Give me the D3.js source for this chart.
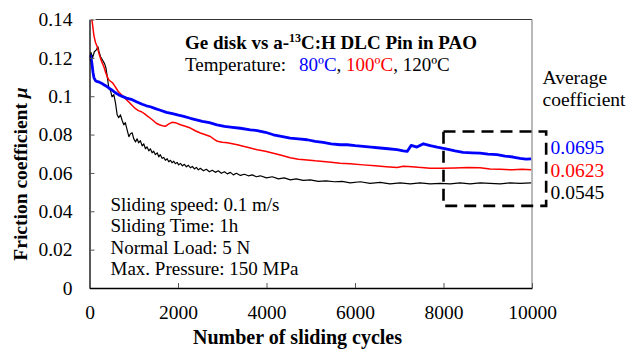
<!DOCTYPE html>
<html>
<head>
<meta charset="utf-8">
<script src="https://cdn.jsdelivr.net/npm/d3@7/dist/d3.min.js"></script>
<style>
  html, body { margin: 0; padding: 0; background: #fff; }
  svg { display: block; font-family: "Liberation Serif", "Times New Roman", serif; }
  svg text { font-family: "Liberation Serif", "Times New Roman", serif; }
</style>
</head>
<body>
<svg id="chart" width="630" height="350"></svg>
<script>
// ---------- data ----------
const xTicks = [0, 2000, 4000, 6000, 8000, 10000];
const yTicks = [0, 0.02, 0.04, 0.06, 0.08, 0.1, 0.12, 0.14];

const seriesNames = ["80ºC", "100ºC", "120ºC"];
const seriesColors = ["#0000ff", "#ff0000", "#000000"];
const averageValues = ["0.0695", "0.0623", "0.0545"];

// 80 ºC (blue)  [cycle, mu]
const mu80 = [
  [25,0.1217],[55,0.117],[80,0.1123],[100,0.1097],[135,0.1081],[180,0.1076],[225,0.1073],
  [270,0.1068],[325,0.106],[385,0.1052],[435,0.1043],[495,0.1034],[585,0.1018],[655,0.1008],
  [740,0.0999],[835,0.099],[965,0.0982],[1060,0.0971],[1190,0.0958],[1285,0.095],[1375,0.0945],
  [1490,0.0935],[1600,0.0927],[1740,0.0916],[1875,0.0909],[2010,0.0901],[2130,0.0895],
  [2280,0.0885],[2415,0.0877],[2550,0.0869],[2710,0.0862],[2880,0.0851],[3050,0.0843],
  [3230,0.0838],[3410,0.0833],[3635,0.0825],[3790,0.0821],[3975,0.0812],[4155,0.0799],
  [4335,0.0791],[4535,0.0782],[4720,0.0778],[4920,0.0773],[5100,0.0765],[5280,0.0759],
  [5460,0.0752],[5665,0.0747],[5825,0.0747],[6005,0.0742],[6185,0.0738],[6365,0.0734],
  [6570,0.073],[6750,0.0726],[6950,0.0721],[7090,0.0715],[7180,0.0712],[7270,0.0744],
  [7400,0.0735],[7545,0.0752],[7700,0.0742],[7855,0.0734],[8080,0.0724],[8260,0.0715],
  [8440,0.0707],[8645,0.0705],[8825,0.0703],[9005,0.0698],[9210,0.0695],[9390,0.0688],
  [9570,0.0683],[9730,0.0676],[9865,0.0672],[9980,0.0673]
];

// 100 ºC (red)
const mu100 = [
  [0,0.152],[40,0.143],[60,0.139],[100,0.1316],[135,0.128],[175,0.1258],[210,0.1227],
  [250,0.1196],[285,0.1175],[325,0.1154],[360,0.1128],[400,0.1102],[435,0.1086],[475,0.1078],
  [520,0.107],[565,0.1055],[610,0.1039],[655,0.1023],[700,0.1013],[765,0.0997],[835,0.0982],
  [905,0.0966],[970,0.095],[1040,0.0935],[1105,0.0925],[1175,0.0919],[1240,0.0909],
  [1310,0.0896],[1375,0.0885],[1445,0.0872],[1510,0.0859],[1580,0.0851],[1650,0.0846],
  [1715,0.0843],[1785,0.0854],[1865,0.0864],[1940,0.0862],[2055,0.0851],[2165,0.0843],
  [2280,0.0834],[2390,0.082],[2505,0.0808],[2620,0.0799],[2730,0.079],[2820,0.0775],
  [2890,0.0765],[3000,0.076],[3115,0.0757],[3230,0.0752],[3340,0.0747],[3475,0.0739],
  [3635,0.073],[3790,0.0721],[3975,0.0713],[4155,0.0703],[4335,0.0692],[4535,0.0679],
  [4720,0.0671],[4920,0.0668],[5100,0.0663],[5280,0.066],[5460,0.0656],[5665,0.0651],
  [5890,0.0648],[6185,0.0642],[6455,0.0637],[6705,0.0632],[6950,0.0628],[7090,0.0635],
  [7200,0.0634],[7430,0.0629],[7700,0.0625],[7970,0.0624],[8260,0.0626],[8555,0.0628],
  [8825,0.0627],[9050,0.0621],[9280,0.0619],[9570,0.0616],[9775,0.0619],[9980,0.0616]
];

// 120 ºC (black)
const mu120 = [
  [10,0.119],[35,0.1227],[70,0.1201],[110,0.1232],[160,0.1243],[190,0.1258],[215,0.1232],
  [250,0.1206],[290,0.119],[340,0.117],[370,0.1149],[405,0.1097],[435,0.1044],[475,0.1029],
  [510,0.0997],[550,0.1008],[590,0.0961],[625,0.0903],[660,0.0888],[700,0.0903],[740,0.0872],
  [775,0.0851],[810,0.0862],[850,0.0825],[890,0.0789],[925,0.0804],[965,0.0809],[1000,0.0778],
  [1040,0.0762],[1075,0.0778],[1110,0.0757],[1150,0.0768],[1190,0.0741],[1225,0.0752],
  [1265,0.0726],[1300,0.0736],[1340,0.0715],[1375,0.0726],[1415,0.0705],[1450,0.0713],
  [1490,0.0695],[1530,0.0705],[1565,0.0684],[1600,0.0695],[1640,0.0676],[1675,0.0681],
  [1715,0.0666],[1755,0.0674],[1790,0.0658],[1830,0.0666],[1865,0.0653],[1905,0.0661],
  [1940,0.0648],[1980,0.0655],[2015,0.0642],[2055,0.065],[2100,0.0637],[2145,0.0645],
  [2190,0.0632],[2235,0.064],[2280,0.0627],[2325,0.0634],[2370,0.0621],[2415,0.0629],
  [2460,0.0616],[2505,0.0624],[2575,0.0611],[2640,0.0619],[2710,0.0606],[2775,0.0614],
  [2845,0.0603],[2910,0.0611],[2980,0.0598],[3050,0.0606],[3115,0.0595],[3185,0.0603],
  [3250,0.059],[3320,0.0598],[3410,0.0587],[3500,0.0593],[3590,0.0585],[3680,0.059],
  [3770,0.058],[3860,0.0585],[4000,0.0574],[4130,0.058],[4270,0.0569],[4400,0.0574],
  [4540,0.0564],[4670,0.0569],[4830,0.0561],[4990,0.0564],[5170,0.0556],[5350,0.0559],
  [5530,0.0554],[5710,0.0556],[5890,0.0548],[6120,0.0554],[6340,0.0546],[6570,0.0551],
  [6790,0.0543],[7020,0.0548],[7250,0.0543],[7470,0.0548],[7700,0.0543],[7920,0.0546],
  [8150,0.0543],[8370,0.0548],[8600,0.0543],[8830,0.0548],[9050,0.0546],[9280,0.0543],
  [9500,0.0548],[9730,0.0546],[9980,0.0548]
];

const conditions = [
  "Sliding speed: 0.1 m/s",
  "Sliding Time: 1h",
  "Normal Load: 5 N",
  "Max. Pressure: 150 MPa"
];

// dashed "average" window, in data units
const boxCycles = [8000, 10320];
const boxMu = [0.0816, 0.0428];

// ---------- drawing ----------
const svg = d3.select("#chart");
const L = 89.5, R = 532, T = 19.5, B = 288;
const x = d3.scaleLinear().domain([0, 10000]).range([L, R]);
const y = d3.scaleLinear().domain([0, 0.14]).range([B, T]);

svg.append("defs").append("clipPath").attr("id", "clip")
  .append("rect").attr("x", L).attr("y", T).attr("width", R - L).attr("height", B - T);

// frame: top and right
svg.append("line").attr("x1", L + 6).attr("x2", R).attr("y1", T).attr("y2", T)
  .attr("stroke", "#333").attr("stroke-width", 1);
svg.append("line").attr("x1", R).attr("x2", R).attr("y1", T).attr("y2", B)
  .attr("stroke", "#8a8a8a").attr("stroke-width", 1.2);

// lines
const line = d3.line().x(d => x(d[0])).y(d => y(d[1]));
const gLines = svg.append("g").attr("clip-path", "url(#clip)");
const allSeries = [mu80, mu100, mu120];
const widths = [2.8, 1.5, 1.2];
[2, 1, 0].forEach(i => {
  gLines.append("path").datum(allSeries[i])
    .attr("d", line).attr("fill", "none")
    .attr("stroke", seriesColors[i]).attr("stroke-width", widths[i])
    .attr("stroke-linejoin", "round");
});

// axes
const fmtY = d => String(+d.toFixed(2));
const yAxis = d3.axisLeft(y).tickValues(yTicks).tickFormat(fmtY)
  .tickSizeInner(-5).tickSizeOuter(0).tickPadding(17);
const gy = svg.append("g").attr("transform", `translate(${L},0)`).call(yAxis);
const xAxis = d3.axisBottom(x).tickValues(xTicks).tickFormat(d3.format("d"))
  .tickSizeInner(-5).tickSizeOuter(0).tickPadding(17);
const gx = svg.append("g").attr("transform", `translate(0,${B})`).call(xAxis);
[gx, gy].forEach(g => {
  g.attr("font-family", null);
  g.select(".domain").attr("stroke", "#000").attr("stroke-width", 1.3);
  g.selectAll(".tick line").attr("stroke", "#555").attr("stroke-width", 1);
  g.selectAll("text").attr("font-size", 19.5).attr("fill", "#000");
});

// dashed box
svg.append("rect")
  .attr("x", x(boxCycles[0])).attr("y", y(boxMu[0]))
  .attr("width", x(boxCycles[1]) - x(boxCycles[0]))
  .attr("height", y(boxMu[1]) - y(boxMu[0]))
  .attr("fill", "none").attr("stroke", "#000").attr("stroke-width", 2.6)
  .attr("stroke-dasharray", "12,7");

// title
const title = svg.append("text").attr("x", 185).attr("y", 48.5)
  .attr("font-size", 19).attr("font-weight", "bold").attr("fill", "#000");
title.append("tspan").text("Ge disk vs a-");
title.append("tspan").attr("font-size", 12).attr("dy", -7).text("13");
title.append("tspan").attr("dy", 7).text("C:H DLC Pin in PAO");

const temp = svg.append("text").attr("x", 185).attr("y", 71).attr("font-size", 19).attr("fill", "#000");
temp.append("tspan").text("Temperature:");
temp.append("tspan").attr("x", 299).attr("fill", seriesColors[0]).text(seriesNames[0]);
temp.append("tspan").attr("fill", "#000").text(", ");
temp.append("tspan").attr("fill", seriesColors[1]).text(seriesNames[1]);
temp.append("tspan").attr("fill", "#000").text(", ");
temp.append("tspan").attr("fill", seriesColors[2]).text(seriesNames[2]);

// conditions
svg.append("g").selectAll("text").data(conditions).join("text")
  .attr("x", 110.5).attr("y", (d, i) => 210.5 + i * 21.5)
  .attr("font-size", 19).attr("fill", "#000").text(d => d);

// average labels
svg.append("text").attr("x", 542.5).attr("y", 84).attr("font-size", 19.5).text("Average");
svg.append("text").attr("x", 542.5).attr("y", 106).attr("font-size", 19.5).text("coefficient");
svg.append("g").selectAll("text").data(averageValues).join("text")
  .attr("x", 550.5).attr("y", (d, i) => 154 + i * 22.5)
  .attr("font-size", 19.5).attr("fill", (d, i) => seriesColors[i]).text(d => d);

// axis titles
svg.append("text").attr("x", 297.5).attr("y", 344)
  .attr("text-anchor", "middle").attr("font-size", 20).attr("font-weight", "bold")
  .text("Number of sliding cycles");
const yt = svg.append("text").attr("transform", "translate(27,174) rotate(-90)")
  .attr("text-anchor", "middle").attr("font-size", 19.5).attr("font-weight", "bold");
yt.append("tspan").text("Friction coefficient ");
yt.append("tspan").attr("font-style", "italic").text("μ");
</script>
</body>
</html>
